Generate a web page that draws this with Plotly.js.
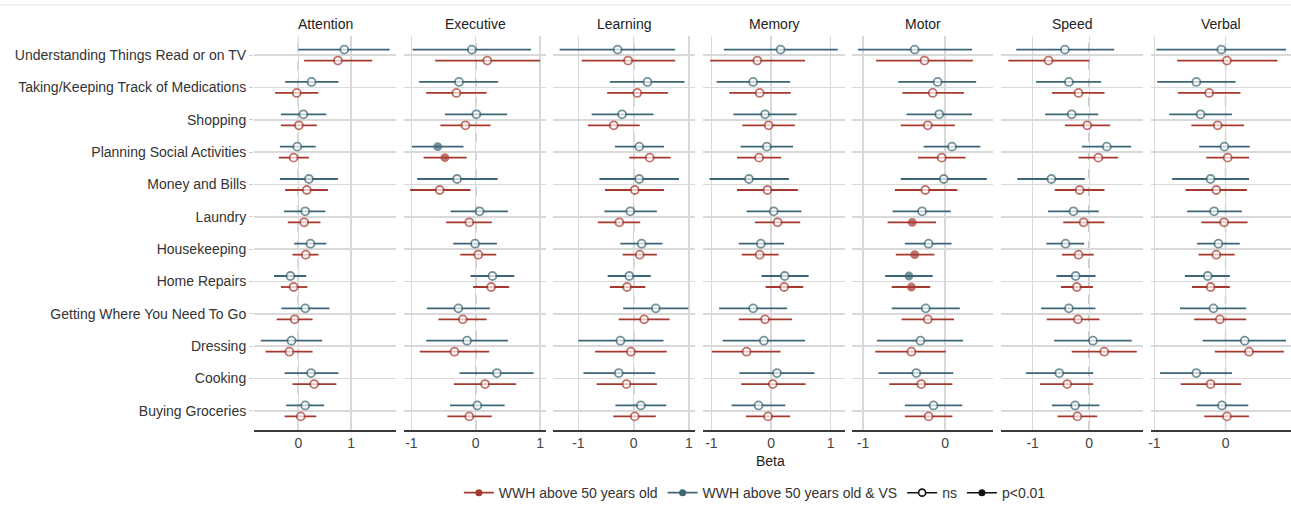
<!DOCTYPE html>
<html>
<head>
<meta charset="utf-8">
<script src="https://cdn.plot.ly/plotly-3.0.1.min.js"></script>
<style>html,body{margin:0;padding:0;background:#fff;}#chart{width:1291px;height:510px;}</style>
</head>
<body>
<div id="chart"></div>
<script>
// ---------- DATA ----------
const categories = ["Understanding Things Read or on TV", "Taking/Keeping Track of Medications", "Shopping",
  "Planning Social Activities", "Money and Bills", "Laundry", "Housekeeping", "Home Repairs",
  "Getting Where You Need To Go", "Dressing", "Cooking", "Buying Groceries"];
const domainNames = ["Attention", "Executive", "Learning", "Memory", "Motor", "Speed", "Verbal"];
const groupNames = ["WWH above 50 years old", "WWH above 50 years old & VS"];
const sigNames = ["ns", "p<0.01"];
const betaTicks = [-1, 0, 1];
const betaTickText = ["-1", "0", "1"];

// WWH above 50 years old & VS (blue)
const attention_vs_beta = [0.87, 0.25, 0.095, -0.02, 0.20, 0.13, 0.23, -0.15, 0.13, -0.13, 0.24, 0.13];
const attention_vs_lo   = [0.0, -0.25, -0.33, -0.35, -0.35, -0.27, -0.08, -0.46, -0.32, -0.71, -0.26, -0.23];
const attention_vs_hi   = [1.73, 0.76, 0.53, 0.33, 0.75, 0.51, 0.53, 0.15, 0.59, 0.45, 0.76, 0.49];
const executive_vs_beta = [-0.06, -0.26, 0.01, -0.59, -0.29, 0.06, -0.01, 0.26, -0.27, -0.135, 0.33, 0.025];
const executive_vs_lo   = [-0.98, -0.88, -0.48, -0.99, -0.91, -0.39, -0.35, -0.08, -0.76, -0.77, -0.25, -0.40];
const executive_vs_hi   = [0.86, 0.35, 0.49, -0.19, 0.34, 0.50, 0.33, 0.60, 0.22, 0.50, 0.90, 0.45];
const learning_vs_beta  = [-0.29, 0.25, -0.21, 0.10, 0.10, -0.06, 0.145, -0.08, 0.40, -0.24, -0.27, 0.13];
const learning_vs_lo    = [-1.34, -0.43, -0.76, -0.34, -0.62, -0.53, -0.24, -0.47, -0.19, -1.00, -0.91, -0.33];
const learning_vs_hi    = [0.75, 0.92, 0.36, 0.55, 0.82, 0.42, 0.52, 0.31, 0.99, 0.54, 0.39, 0.59];
const memory_vs_beta    = [0.16, -0.30, -0.10, -0.07, -0.37, 0.045, -0.17, 0.23, -0.30, -0.12, 0.10, -0.21];
const memory_vs_lo      = [-0.79, -0.91, -0.63, -0.51, -1.03, -0.41, -0.54, -0.16, -0.87, -0.81, -0.53, -0.66];
const memory_vs_hi      = [1.12, 0.32, 0.43, 0.37, 0.30, 0.51, 0.22, 0.63, 0.27, 0.57, 0.73, 0.24];
const motor_vs_beta     = [-0.37, -0.09, -0.07, 0.085, -0.015, -0.28, -0.20, -0.44, -0.235, -0.30, -0.35, -0.14];
const motor_vs_lo       = [-1.06, -0.57, -0.47, -0.26, -0.54, -0.64, -0.49, -0.73, -0.65, -0.83, -0.81, -0.49];
const motor_vs_hi       = [0.33, 0.38, 0.33, 0.43, 0.51, 0.07, 0.08, -0.15, 0.18, 0.22, 0.10, 0.21];
const speed_vs_beta     = [-0.43, -0.36, -0.31, 0.31, -0.67, -0.28, -0.42, -0.24, -0.36, 0.065, -0.53, -0.25];
const speed_vs_lo       = [-1.29, -0.94, -0.78, -0.13, -1.27, -0.73, -0.76, -0.58, -0.85, -0.62, -1.12, -0.66];
const speed_vs_hi       = [0.44, 0.21, 0.16, 0.74, -0.08, 0.17, -0.09, 0.11, 0.11, 0.75, 0.07, 0.18];
const verbal_vs_beta    = [-0.06, -0.41, -0.35, -0.015, -0.21, -0.16, -0.10, -0.25, -0.17, 0.27, -0.41, -0.05];
const verbal_vs_lo      = [-0.97, -0.96, -0.79, -0.37, -0.75, -0.54, -0.40, -0.57, -0.64, -0.32, -0.92, -0.41];
const verbal_vs_hi      = [0.85, 0.14, 0.09, 0.34, 0.33, 0.23, 0.20, 0.06, 0.29, 0.85, 0.09, 0.32];

// WWH above 50 years old (red)
const attention_50_beta = [0.75, -0.03, 0.01, -0.09, 0.16, 0.11, 0.14, -0.09, -0.07, -0.17, 0.30, 0.045];
const attention_50_lo   = [0.11, -0.44, -0.33, -0.37, -0.25, -0.20, -0.11, -0.33, -0.41, -0.62, -0.11, -0.26];
const attention_50_hi   = [1.40, 0.38, 0.35, 0.20, 0.56, 0.42, 0.38, 0.17, 0.27, 0.27, 0.72, 0.34];
const executive_50_beta = [0.18, -0.30, -0.16, -0.48, -0.56, -0.10, 0.04, 0.24, -0.20, -0.33, 0.145, -0.10];
const executive_50_lo   = [-0.63, -0.77, -0.55, -0.81, -1.02, -0.46, -0.24, -0.04, -0.58, -0.87, -0.34, -0.44];
const executive_50_hi   = [1.0, 0.17, 0.23, -0.14, -0.08, 0.25, 0.32, 0.52, 0.17, 0.21, 0.63, 0.25];
const learning_50_beta  = [-0.10, 0.065, -0.36, 0.29, 0.02, -0.26, 0.11, -0.12, 0.19, -0.05, -0.13, 0.02];
const learning_50_lo    = [-0.94, -0.48, -0.83, -0.08, -0.52, -0.65, -0.20, -0.43, -0.27, -0.70, -0.67, -0.37];
const learning_50_hi    = [0.75, 0.62, 0.11, 0.67, 0.55, 0.12, 0.42, 0.21, 0.65, 0.60, 0.42, 0.40];
const memory_50_beta    = [-0.23, -0.19, -0.04, -0.20, -0.06, 0.11, -0.19, 0.22, -0.10, -0.41, 0.03, -0.05];
const memory_50_lo      = [-1.02, -0.70, -0.48, -0.57, -0.57, -0.27, -0.49, -0.09, -0.54, -0.99, -0.50, -0.42];
const memory_50_hi      = [0.57, 0.33, 0.40, 0.17, 0.45, 0.49, 0.13, 0.54, 0.35, 0.16, 0.58, 0.32];
const motor_50_beta     = [-0.25, -0.15, -0.21, -0.04, -0.24, -0.40, -0.37, -0.41, -0.21, -0.41, -0.29, -0.20];
const motor_50_lo       = [-0.84, -0.52, -0.54, -0.33, -0.61, -0.70, -0.60, -0.65, -0.53, -0.85, -0.68, -0.49];
const motor_50_hi       = [0.34, 0.23, 0.12, 0.25, 0.15, -0.11, -0.13, -0.18, 0.11, 0.01, 0.09, 0.09];
const speed_50_beta     = [-0.72, -0.19, -0.035, 0.16, -0.17, -0.10, -0.19, -0.22, -0.20, 0.265, -0.39, -0.21];
const speed_50_lo       = [-1.43, -0.66, -0.43, -0.19, -0.61, -0.46, -0.48, -0.50, -0.75, -0.31, -0.87, -0.56];
const speed_50_hi       = [0.0, 0.27, 0.37, 0.51, 0.27, 0.27, 0.08, 0.065, 0.18, 0.84, 0.07, 0.14];
const verbal_50_beta    = [0.02, -0.23, -0.11, 0.03, -0.13, -0.02, -0.13, -0.21, -0.08, 0.33, -0.21, 0.02];
const verbal_50_lo      = [-0.68, -0.67, -0.48, -0.27, -0.56, -0.34, -0.38, -0.47, -0.44, -0.15, -0.63, -0.30];
const verbal_50_hi      = [0.73, 0.21, 0.26, 0.33, 0.30, 0.31, 0.13, 0.06, 0.29, 0.82, 0.22, 0.33];

// significant estimates (p<0.01): [domain, group, category]
const significant = [
  ["Executive", "WWH above 50 years old & VS", "Planning Social Activities"],
  ["Executive", "WWH above 50 years old", "Planning Social Activities"],
  ["Motor", "WWH above 50 years old", "Laundry"],
  ["Motor", "WWH above 50 years old", "Housekeeping"],
  ["Motor", "WWH above 50 years old", "Home Repairs"],
  ["Motor", "WWH above 50 years old & VS", "Home Repairs"]
];

// ---------- BUILD ----------
const series = {
  Attention: {vs: [attention_vs_beta, attention_vs_lo, attention_vs_hi], a50: [attention_50_beta, attention_50_lo, attention_50_hi]},
  Executive: {vs: [executive_vs_beta, executive_vs_lo, executive_vs_hi], a50: [executive_50_beta, executive_50_lo, executive_50_hi]},
  Learning:  {vs: [learning_vs_beta, learning_vs_lo, learning_vs_hi], a50: [learning_50_beta, learning_50_lo, learning_50_hi]},
  Memory:    {vs: [memory_vs_beta, memory_vs_lo, memory_vs_hi], a50: [memory_50_beta, memory_50_lo, memory_50_hi]},
  Motor:     {vs: [motor_vs_beta, motor_vs_lo, motor_vs_hi], a50: [motor_50_beta, motor_50_lo, motor_50_hi]},
  Speed:     {vs: [speed_vs_beta, speed_vs_lo, speed_vs_hi], a50: [speed_50_beta, speed_50_lo, speed_50_hi]},
  Verbal:    {vs: [verbal_vs_beta, verbal_vs_lo, verbal_vs_hi], a50: [verbal_50_beta, verbal_50_lo, verbal_50_hi]}
};

const RED = "#a6392e", BLUE = "#3c6676";
const FONT = "Liberation Sans, Arial, sans-serif";
const W = 1291, L = 254, PW = W - L;
const panelLeft = [254, 404, 553, 703, 852, 1001, 1151];
const panelRight = [396, 546, 695, 845, 993, 1143, 1291];
const xRanges = [[-0.84, 1.85], [-1.115, 1.093], [-1.46, 1.11], [-1.14, 1.24], [-1.134, 0.585], [-1.56, 0.95], [-1.047, 0.92]];
const dodge = 0.17;

const traces = [];
const layout = {
  width: 1291, height: 510,
  margin: {l: L, r: 0, t: 36, b: 80},
  paper_bgcolor: "#fff", plot_bgcolor: "#fff",
  font: {family: FONT, size: 14, color: "#333"},
  showlegend: true,
  legend: {orientation: "h", x: 0.483, xanchor: "center", y: -0.16, yanchor: "middle",
           font: {size: 14, color: "#333"}, itemwidth: 30, tracegroupgap: 0},
  annotations: [], shapes: []
};

function isSig(dom, grp, cat) {
  return significant.some(s => s[0] === dom && s[1] === grp && s[2] === cat);
}

domainNames.forEach((dom, d) => {
  const n = d + 1;
  const xa = n === 1 ? "x" : "x" + n, ya = n === 1 ? "y" : "y" + n;
  const xk = n === 1 ? "xaxis" : "xaxis" + n, yk = n === 1 ? "yaxis" : "yaxis" + n;
  layout[xk] = {
    domain: [(panelLeft[d] - L) / PW, (panelRight[d] - L) / PW],
    range: xRanges[d], anchor: ya,
    tickmode: "array", tickvals: betaTicks, ticktext: betaTickText,
    showgrid: true, gridcolor: "#d9d9d9", gridwidth: 1.5, zeroline: false,
    showline: true, linecolor: "#3a3a3a", linewidth: 1.5, ticks: "",
    tickfont: {size: 14, color: "#444"}, fixedrange: true
  };
  layout[yk] = {
    domain: [0, 1], anchor: xa, range: [11.59, -0.59],
    tickmode: "array", tickvals: categories.map((c, i) => i), ticktext: categories,
    showticklabels: n === 1, ticks: n === 1 ? "outside" : "", ticklen: 4, tickcolor: "#cfcfcf",
    showgrid: true, gridcolor: "#d9d9d9", gridwidth: 1.5, zeroline: false, showline: false,
    tickfont: {size: 14, color: "#333"}, fixedrange: true
  };
  if (n > 1) layout[yk].matches = "y";
  // dashed zero line
  layout.shapes.push({type: "line", xref: xa, yref: ya + " domain", x0: 0, x1: 0, y0: 0, y1: 1,
    line: {color: "#6a6a6a", width: 1.2, dash: "dash"}, layer: "below"});
  // facet title
  layout.annotations.push({text: dom, xref: xa + " domain", yref: "paper", x: 0.5, y: 1.0305,
    xanchor: "center", yanchor: "middle", showarrow: false, font: {size: 14, color: "#222"}});

  [["a50", groupNames[0], RED, dodge], ["vs", groupNames[1], BLUE, -dodge]].forEach(([key, grp, col, off]) => {
    const [beta, lo, hi] = series[dom][key];
    const sig = categories.map(c => isSig(dom, grp, c));
    traces.push({
      type: "scatter", mode: "markers", xaxis: xa, yaxis: ya, showlegend: false, name: grp,
      x: beta, y: categories.map((c, i) => i + off),
      error_x: {type: "data", symmetric: false,
        array: beta.map((b, i) => hi[i] - b), arrayminus: beta.map((b, i) => b - lo[i]),
        color: col, thickness: 1.8, width: 0},
      marker: {symbol: "circle", size: sig.map(s => s ? 7 : 8), color: sig.map(s => s ? col : "#ffffff"),
        line: {color: col, width: 1.8}},
      hoverinfo: "x"
    });
  });
});

// legend entries
traces.push({type: "scatter", mode: "lines+markers", x: [null], y: [null], name: groupNames[0],
  line: {color: RED, width: 1.8}, marker: {color: RED, size: 7}, showlegend: true});
traces.push({type: "scatter", mode: "lines+markers", x: [null], y: [null], name: groupNames[1],
  line: {color: BLUE, width: 1.8}, marker: {color: BLUE, size: 7}, showlegend: true});
traces.push({type: "scatter", mode: "lines+markers", x: [null], y: [null], name: sigNames[0],
  line: {color: "#111", width: 1.5}, marker: {color: "#fff", size: 7, line: {color: "#111", width: 1.6}}, showlegend: true});
traces.push({type: "scatter", mode: "lines+markers", x: [null], y: [null], name: sigNames[1],
  line: {color: "#111", width: 1.5}, marker: {color: "#111", size: 7}, showlegend: true});

// x-axis title
layout.annotations.push({text: "Beta", xref: "paper", yref: "paper", x: (770 - L) / PW, y: (430 - 461) / 394,
  xanchor: "center", yanchor: "middle", showarrow: false, font: {size: 14, color: "#222"}});
// thin frame line at top
layout.shapes.push({type: "line", xref: "paper", yref: "paper", x0: -L / PW, x1: 1, y0: (430 - 5) / 394, y1: (430 - 5) / 394,
  line: {color: "#e3e3e3", width: 1}});

Plotly.newPlot("chart", traces, layout, {displayModeBar: false, staticPlot: true});
</script>
</body>
</html>
